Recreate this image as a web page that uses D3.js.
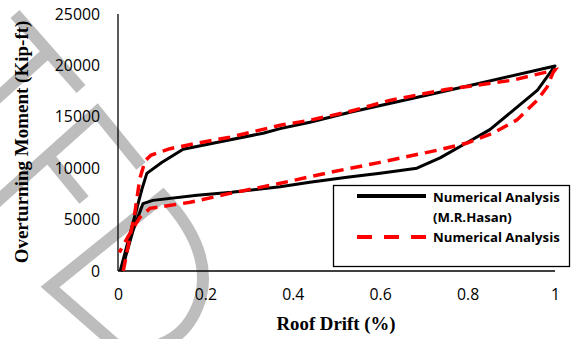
<!DOCTYPE html>
<html>
<head>
<meta charset="utf-8">
<script src="https://cdn.jsdelivr.net/npm/d3@7"></script>
<style>
  body { margin: 0; background: #fff; }
  svg { display: block; }
</style>
</head>
<body>
<div id="svgContainer"></div>
<script>
// roof drift (%) vs overturning moment (kip-ft)
var hasanDrift = [0.005, 0.03, 0.055, 0.066, 0.1, 0.149, 0.217, 0.332, 0.371, 0.439, 0.531, 0.675, 0.828, 1.0,
                  0.96, 0.905, 0.851, 0.789, 0.737, 0.684, 0.6, 0.524, 0.439, 0.371, 0.26, 0.181, 0.08, 0.057, 0.035, 0.008];
var hasanMoment = [0, 4000, 8000, 9500, 10550, 11840, 12430, 13400, 13850, 14470, 15450, 16800, 18270, 19950,
                   17600, 15650, 13750, 12250, 11000, 10000, 9500, 9110, 8630, 8200, 7650, 7360, 6870, 6550, 4000, 0];

var redDrift = [0.012, 0.025, 0.038, 0.05, 0.062, 0.075, 0.119, 0.181, 0.256, 0.371, 0.439, 0.524, 0.622, 0.75, 0.904, 1.0,
                0.995, 0.982, 0.959, 0.913, 0.858, 0.799, 0.73, 0.6, 0.485, 0.371, 0.348, 0.256, 0.165, 0.103, 0.073, 0.05, 0.025, 0.003];
var redMoment = [0, 2800, 5500, 9000, 10700, 11260, 11900, 12430, 13010, 14180, 14670, 15450, 16600, 17650, 18570, 19550,
                 19250, 17900, 16600, 14700, 13400, 12450, 11740, 10570, 9600, 8530, 8330, 7550, 6680, 6290, 6090, 5210, 3500, 1800];

var xTicks = [0, 0.2, 0.4, 0.6, 0.8, 1];
var yTicks = [0, 5000, 10000, 15000, 20000, 25000];

var seriesNames = ["Numerical Analysis", "(M.R.Hasan)", "Numerical Analysis"];

var W = 571, H = 339;
var margin = {top: 14, right: 16, bottom: 68, left: 118};
var width = W - margin.left - margin.right,
    height = H - margin.top - margin.bottom;

var svg = d3.select("#svgContainer")
    .append("svg")
    .attr("width", W)
    .attr("height", H);

// grey watermark letters behind the chart
var wm = svg.append("g")
    .attr("fill", "none")
    .attr("stroke", "#bdbdbd")
    .attr("stroke-width", 12);
wm.append("path").attr("d", "M15,14 L81,89 M48,52 L-5,100");
wm.append("path").attr("d", "M-8,206 L97,112 L141,166 M48,156 L84,200");
wm.append("path").attr("d", "M50,287 L163,196 Q212,248 201,296 Q186,352 122,350 Z");

var g = svg.append("g")
    .attr("transform", "translate(" + margin.left + "," + margin.top + ")");

var x = d3.scaleLinear().domain([0, 1]).range([0, width]);
var y = d3.scaleLinear().domain([0, 25000]).range([height, 0]);

// axes, no tick marks
var xAxis = g.append("g")
    .attr("transform", "translate(0," + height + ")")
    .call(d3.axisBottom(x).tickValues(xTicks).tickSize(0).tickPadding(18).tickFormat(d3.format("~g")));
var yAxis = g.append("g")
    .call(d3.axisLeft(y).tickValues(yTicks).tickSize(0).tickPadding(18).tickFormat(d3.format("d")));

[xAxis, yAxis].forEach(function(a) {
    a.select(".domain").attr("stroke", "#000").attr("stroke-width", 1.3);
    a.selectAll("text")
        .attr("fill", "#000")
        .style("font-family", "'Open Sans', sans-serif")
        .style("font-size", "15.8px");
});
yAxis.select(".domain").attr("d", "M0," + height + "V0");
xAxis.select(".domain").attr("d", "M0,0H" + width);

var line = d3.line()
    .x(function(d) { return x(d[0]); })
    .y(function(d) { return y(d[1]); });

var hasan = hasanDrift.map(function(d, i) { return [d, hasanMoment[i]]; });
var red = redDrift.map(function(d, i) { return [d, redMoment[i]]; });

g.append("path")
    .datum(hasan)
    .attr("d", line)
    .attr("fill", "none")
    .attr("stroke", "#000")
    .attr("stroke-width", 3)
    .attr("stroke-linejoin", "round");

g.append("path")
    .datum(red)
    .attr("d", line)
    .attr("fill", "none")
    .attr("stroke", "#ff0000")
    .attr("stroke-width", 3.5)
    .attr("stroke-dasharray", "12,7");

// axis titles
svg.append("text")
    .attr("x", 336)
    .attr("y", 330)
    .attr("text-anchor", "middle")
    .style("font-family", "'Liberation Serif', serif")
    .style("font-weight", "bold")
    .style("font-size", "18.8px")
    .text("Roof Drift (%)");

svg.append("text")
    .attr("transform", "translate(28,142) rotate(-90)")
    .attr("text-anchor", "middle")
    .style("font-family", "'Liberation Serif', serif")
    .style("font-weight", "bold")
    .style("font-size", "19px")
    .text("Overturning Moment (Kip-ft)");

// legend
var leg = svg.append("g");
leg.append("rect")
    .attr("x", 333.5).attr("y", 185.5)
    .attr("width", 236).attr("height", 81)
    .attr("fill", "#fff")
    .attr("stroke", "#000")
    .attr("stroke-width", 1.3);
leg.append("line")
    .attr("x1", 357).attr("x2", 426).attr("y1", 196).attr("y2", 196)
    .attr("stroke", "#000").attr("stroke-width", 4);
leg.append("line")
    .attr("x1", 357).attr("x2", 426).attr("y1", 237).attr("y2", 237)
    .attr("stroke", "#ff0000").attr("stroke-width", 4)
    .attr("stroke-dasharray", "15,12");
leg.selectAll("text.lab")
    .data(seriesNames)
    .enter().append("text")
    .attr("class", "lab")
    .attr("x", 433)
    .attr("y", function(d, i) { return [201.5, 221.5, 242][i]; })
    .style("font-family", "'Open Sans', sans-serif")
    .style("font-weight", "bold")
    .style("font-size", "13.2px")
    .text(function(d) { return d; });
</script>
</body>
</html>
